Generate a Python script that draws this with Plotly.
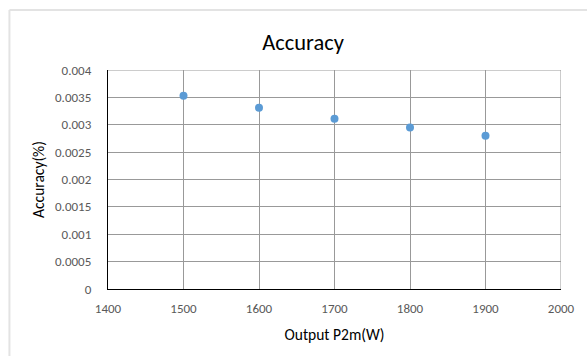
import plotly.graph_objects as go

# Output power (W) and measured accuracy (%)
output_power = [1500, 1600, 1700, 1800, 1900]
accuracy = [0.00353, 0.00331, 0.00311, 0.00295, 0.00280]

x_ticks = [1400, 1500, 1600, 1700, 1800, 1900, 2000]
y_ticks = [0, 0.0005, 0.001, 0.0015, 0.002, 0.0025, 0.003, 0.0035, 0.004]
y_tick_text = ["0", "0.0005", "0.001", "0.0015", "0.002", "0.0025", "0.003", "0.0035", "0.004"]

W, H = 587, 356
ML, MR, MT, MB = 108, 24, 70, 67
PW, PH = W - ML - MR, H - MT - MB

def px_x(p):
    return (p - ML) / PW

def px_y(p):
    return 1 - (p - MT) / PH

FONT = "Carlito, Lato, Liberation Sans, sans-serif"

fig = go.Figure()
fig.add_trace(go.Scatter(
    x=output_power, y=accuracy, mode="markers",
    marker=dict(color="#5B9BD5", size=8, line=dict(width=0)),
    showlegend=False, hoverinfo="x+y",
))

grid = "#999999"
fig.update_layout(
    width=W, height=H,
    margin=dict(l=ML, r=MR, t=MT, b=MB),
    paper_bgcolor="white", plot_bgcolor="white",
    font=dict(family=FONT, color="#595959", size=13),
    title=dict(text="Accuracy", xref="container", x=303 / W, xanchor="center",
               yref="container", y=1 - 42 / H, yanchor="middle",
               font=dict(size=22.5, color="#000000", family=FONT)),
    xaxis=dict(range=[1400, 2000], tickvals=x_ticks,
               showgrid=True, gridcolor=grid, gridwidth=1,
               showline=True, linecolor="#000000", linewidth=1.3,
               zeroline=False, ticks="", ticklabelstandoff=7,
               tickfont=dict(size=13, color="#595959"),
               title=dict(text="Output P2m(W)", standoff=14,
                          font=dict(size=15.5, color="#000000"))),
    yaxis=dict(range=[0, 0.004], tickvals=y_ticks, ticktext=y_tick_text,
               showgrid=True, gridcolor=grid, gridwidth=1,
               showline=True, linecolor="#000000", linewidth=1.3,
               zeroline=False, ticks="", ticklabelstandoff=13,
               tickfont=dict(size=13, color="#595959"),
               title=dict(text="Accuracy(%)", standoff=6,
                          font=dict(size=15.5, color="#000000"))),
    shapes=[
        # light outer chart frame
        dict(type="line", xref="paper", yref="paper",
             x0=px_x(9), x1=px_x(W + 5), y0=px_y(10), y1=px_y(10),
             line=dict(color="#e3e3e3", width=2)),
        dict(type="line", xref="paper", yref="paper",
             x0=px_x(9), x1=px_x(9), y0=px_y(10), y1=px_y(H + 5),
             line=dict(color="#e3e3e3", width=2)),
        # right gridline at 2000 and top gridline
        dict(type="line", xref="x", yref="y", x0=2000, x1=2000, y0=0, y1=0.004,
             line=dict(color=grid, width=1)),
        dict(type="line", xref="x", yref="y", x0=1400, x1=2000, y0=0.004, y1=0.004,
             line=dict(color=grid, width=1)),
    ],
)

fig.write_html("out.html")
